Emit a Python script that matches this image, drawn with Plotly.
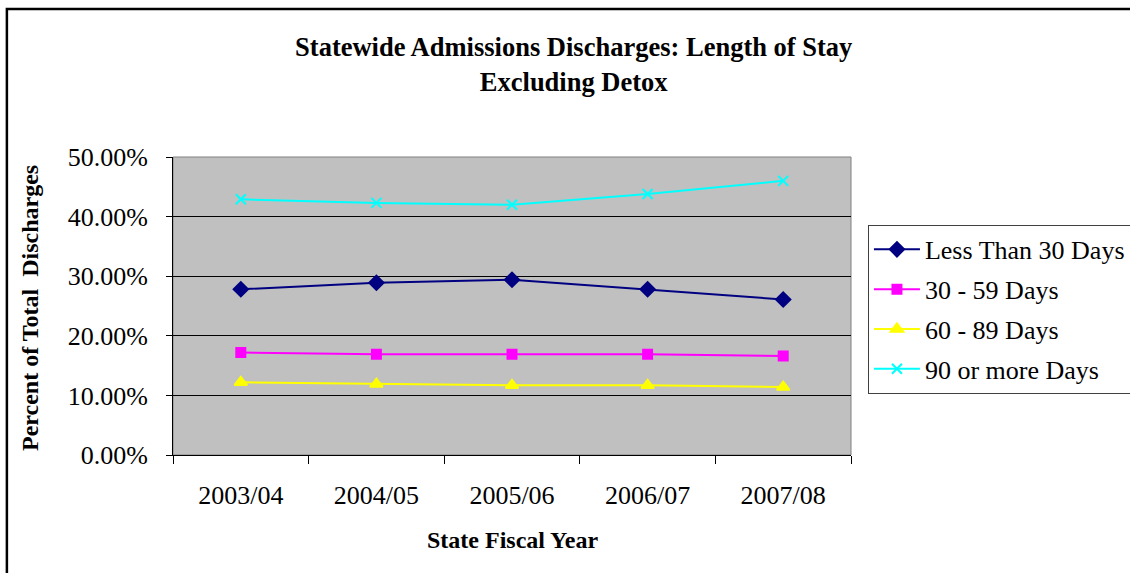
import plotly.graph_objects as go

# values (percent of total discharges)
years = ["2003/04", "2004/05", "2005/06", "2006/07", "2007/08"]
less_30 = [27.8, 28.9, 29.4, 27.8, 26.1]
d30_59 = [17.2, 16.9, 16.9, 16.9, 16.6]
d60_89 = [12.2, 11.9, 11.7, 11.7, 11.4]
d90_plus = [42.9, 42.3, 42.0, 43.8, 46.0]

series = [
    ("Less Than 30 Days", less_30, "#000080", "diamond", 11),
    ("30 - 59 Days", d30_59, "#FF00FF", "square", 9),
    ("60 - 89 Days", d60_89, "#FFFF00", "triangle-up", 11),
    ("90 or more Days", d90_plus, "#00FFFF", "x-thin-open", 10),
]

font = "Liberation Serif, Times New Roman, serif"

fig = go.Figure()
for name, vals, col, sym, sz in series:
    fig.add_trace(go.Scatter(
        x=years, y=vals, name=name, mode="lines+markers", legendgroup=name,
        line=dict(color=col, width=2),
        marker=dict(symbol=sym, size=sz, color=col, line=dict(color=col, width=2)),
    ))

fig.update_layout(
    width=1130, height=573,
    margin=dict(l=173, r=279, t=157, b=118, autoexpand=False),
    paper_bgcolor="white", plot_bgcolor="#C0C0C0",
    font=dict(family=font, size=26, color="black"),
    showlegend=True,
    legend=dict(x=1.025, y=0.772, xanchor="left", yanchor="top",
                bgcolor="white", bordercolor="#404040", borderwidth=1,
                font=dict(family=font, size=26), tracegroupgap=3, itemwidth=46),
    title=dict(text="<b>Statewide Admissions Discharges: Length of Stay<br>Excluding Detox</b>",
               x=0.591, xref="paper", xanchor="center",
               y=0.902, yref="container", yanchor="middle",
               font=dict(family=font, size=26.5)),
)

fig.update_xaxes(
    type="category", range=[-0.5, 4.5], tickson="boundaries",
    ticks="outside", ticklen=8, tickcolor="black", ticklabelstandoff=17,
    showline=True, linecolor="black", linewidth=1, showgrid=False,
    tickfont=dict(family=font, size=26),
)
fig.update_yaxes(
    range=[0, 50], dtick=10, tickformat=".2f", ticksuffix="%",
    ticks="outside", ticklen=6, tickcolor="black", ticklabelstandoff=13,
    showline=True, linecolor="black", linewidth=1,
    showgrid=True, gridcolor="black", gridwidth=1, zeroline=False,
    tickfont=dict(family=font, size=26),
)

fig.add_annotation(text="<b>Percent of Total  Discharges</b>", textangle=-90,
                   xref="paper", yref="paper", x=-0.211, y=0.493,
                   xanchor="center", yanchor="middle",
                   showarrow=False, font=dict(family=font, size=24))
fig.add_annotation(text="<b>State Fiscal Year</b>",
                   xref="paper", yref="paper", x=0.5, y=-0.285,
                   xanchor="center", yanchor="middle",
                   showarrow=False, font=dict(family=font, size=24))

# gray outline of the plot area and outer chart border
fig.add_shape(type="rect", xref="paper", yref="paper", x0=0, y0=0, x1=1, y1=1,
              line=dict(color="#808080", width=1), layer="below")
fig.add_shape(type="rect", xref="paper", yref="paper", x0=-0.245, y0=-0.45, x1=1.45, y1=1.497,
              line=dict(color="black", width=2.5))

# drop the page margin so the figure fills the window without scrollbars
fig.write_html("out.html", config={"displayModeBar": False},
               post_script="document.body.style.margin='0';document.body.style.overflow='hidden';")
